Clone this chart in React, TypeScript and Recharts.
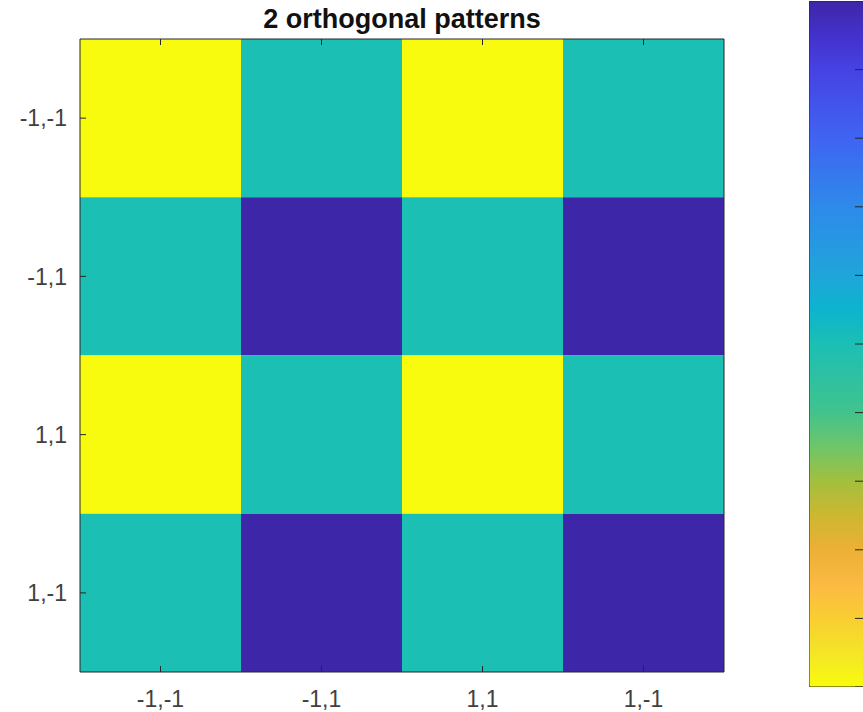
import React from 'react';
import { BarChart, Bar, XAxis, YAxis, Cell } from 'recharts';

const xLabels = ['-1,-1', '-1,1', '1,1', '1,-1'];
const yLabels = ['-1,-1', '-1,1', '1,1', '1,-1'];

// image rows, top to bottom
const row1 = [1, 0, 1, 0];
const row2 = [0, -1, 0, -1];
const row3 = [1, 0, 1, 0];
const row4 = [0, -1, 0, -1];
const rows = [row1, row2, row3, row4];

const yTicks = [0.5, 1.5, 2.5, 3.5];
const cbarTicks = [-1, -0.8, -0.6, -0.4, -0.2, 0, 0.2, 0.4, 0.6, 0.8, 1];
const cbarRange = [-1, 1];

// parula-like colour stops, sampled from the colour bar
const PARULA: [number, string][] = [
  [0, '#3E26A8'],
  [0.05, '#4331CB'],
  [0.1, '#4642E3'],
  [0.2, '#3F64F2'],
  [0.3, '#2E8AEA'],
  [0.4, '#1FA5DA'],
  [0.45, '#0DB4CE'],
  [0.5, '#1BBFB4'],
  [0.6, '#42C38D'],
  [0.65, '#6EC668'],
  [0.7, '#A3BF3E'],
  [0.75, '#CDB731'],
  [0.8, '#ECB036'],
  [0.85, '#FCB942'],
  [0.9, '#F8CE32'],
  [0.95, '#F4E526'],
  [1, '#F9FB0E'],
];

const hex = (h: string) => [1, 3, 5].map((i) => parseInt(h.slice(i, i + 2), 16));

function colorFor(v: number) {
  const t = (v - cbarRange[0]) / (cbarRange[1] - cbarRange[0]);
  for (let i = 1; i < PARULA.length; i++) {
    const [t1, c1] = PARULA[i];
    const [t0, c0] = PARULA[i - 1];
    if (t <= t1) {
      const f = (t - t0) / (t1 - t0);
      const a = hex(c0);
      const b = hex(c1);
      const m = a.map((x, k) => Math.round(x + (b[k] - x) * f));
      return `rgb(${m.join(',')})`;
    }
  }
  return PARULA[PARULA.length - 1][1];
}

const AXIS = '#262626';
const FONT = '"Liberation Sans", Arial, Helvetica, sans-serif';
const LABEL = '#404040';

const BottomTick = (props: any) => {
  const { x, y, payload } = props;
  return (
    <text x={x} y={y} dy="0.72em" textAnchor="middle" fontSize={23} fontFamily={FONT} fill={LABEL}>
      {payload.value}
    </text>
  );
};

const LeftTick = (props: any) => {
  const { x, y, payload } = props;
  return (
    <text x={x} y={y} dy="0.36em" textAnchor="end" fontSize={23} fontFamily={FONT} fill={LABEL}>
      {yLabels[Math.floor(payload.value)]}
    </text>
  );
};

const NoLabel = () => <g />;

const heatData = xLabels.map((col) => ({ col, r0: 1, r1: 1, r2: 1, r3: 1 }));
const cbarData = [{ name: 'cbar', range: cbarRange }];

export default function App() {
  return (
    <div style={{ position: 'fixed', left: 0, top: 0, width: 863, height: 712, overflow: 'hidden', background: '#fff' }}>
      <svg width={863} height={40} style={{ position: 'absolute', left: 0, top: 0 }}>
        <text x={402} y={28} textAnchor="middle" fontSize={27} fontWeight="bold" fontFamily={FONT} fill="#111">
          2 orthogonal patterns
        </text>
      </svg>

      <div style={{ position: 'absolute', left: 0, top: 0 }}>
        <BarChart
          width={760}
          height={712}
          data={heatData}
          margin={{ top: 39, right: 36, bottom: 0, left: 0 }}
          barCategoryGap={0}
          barGap={0}
        >
          <XAxis
            dataKey="col"
            height={40}
            stroke={AXIS}
            tickSize={-6}
            tickMargin={24}
            tick={BottomTick}
            interval={0}
          />
          <XAxis
            xAxisId="top"
            dataKey="col"
            orientation="top"
            mirror
            stroke={AXIS}
            tickSize={6}
            tick={NoLabel}
            interval={0}
          />
          <YAxis
            type="number"
            domain={[0, 4]}
            reversed
            ticks={yTicks}
            width={80}
            stroke={AXIS}
            tickSize={-6}
            tickMargin={19}
            tick={LeftTick}
            interval={0}
          />
          <YAxis
            yAxisId="right"
            type="number"
            domain={[0, 4]}
            reversed
            ticks={yTicks}
            orientation="right"
            mirror
            stroke={AXIS}
            tickSize={6}
            tick={NoLabel}
            interval={0}
          />
          {rows.map((row, r) => (
            <Bar key={r} dataKey={`r${r}`} stackId="a" isAnimationActive={false}>
              {row.map((v, c) => (
                <Cell key={c} fill={colorFor(v)} />
              ))}
            </Bar>
          ))}
        </BarChart>
      </div>

      <div style={{ position: 'absolute', left: 809, top: 1 }}>
        <BarChart width={56} height={686} data={cbarData} margin={{ top: 0, right: 0, bottom: 0, left: 0 }} barCategoryGap={0}>
          <defs>
            <linearGradient id="parulaGrad" x1="0" y1="0" x2="0" y2="1">
              {PARULA.map(([o, c]) => (
                <stop key={o} offset={`${o * 100}%`} stopColor={c} />
              ))}
            </linearGradient>
          </defs>
          <XAxis dataKey="name" hide />
          <Bar dataKey="range" fill="url(#parulaGrad)" stroke={AXIS} strokeWidth={1} isAnimationActive={false} />
          <YAxis
            type="number"
            domain={cbarRange}
            reversed
            ticks={cbarTicks}
            orientation="right"
            mirror
            axisLine={false}
            stroke={AXIS}
            tickSize={10}
            tick={NoLabel}
            interval={0}
          />
        </BarChart>
      </div>
    </div>
  );
}
